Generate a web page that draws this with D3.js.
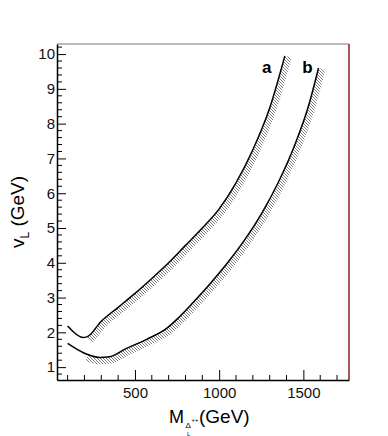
<!DOCTYPE html>
<html><head><meta charset="utf-8">
<script src="https://cdn.jsdelivr.net/npm/d3@7/dist/d3.min.js"></script>
<style>body{margin:0;background:#fff}svg{display:block}text{font-family:"Liberation Sans",Arial,Helvetica,sans-serif}</style>
</head><body><div id="chart"></div>
<script>
// Curve a (mass in GeV, v_L in GeV)
const massA = [100, 150, 190, 215, 300, 400, 500, 600, 700, 800, 900, 1000, 1100, 1200, 1300, 1390];
const vA    = [2.18, 1.95, 1.85, 1.87, 2.32, 2.72, 3.12, 3.55, 4.0, 4.5, 5.0, 5.55, 6.3, 7.25, 8.45, 9.95];
// Curve b
const massB = [100, 200, 290, 350, 450, 570, 690, 750, 830, 950, 1050, 1150, 1250, 1350, 1450, 1530, 1590];
const vB    = [1.68, 1.4, 1.28, 1.3, 1.54, 1.8, 2.12, 2.38, 2.78, 3.42, 4.0, 4.65, 5.4, 6.3, 7.4, 8.5, 9.6];
const hatchStart = 215; // GeV where hatching begins
const curveLabels = ["a", "b"];
const xTickLabels = [500, 1000, 1500];
const yTickLabels = [1, 2, 3, 4, 5, 6, 7, 8, 9, 10];

const W = 388, H = 436;
const svg = d3.select("#chart").append("svg").attr("width", W).attr("height", H);

const x = d3.scaleLinear().domain([37, 1771]).range([57, 349]);
const y = d3.scaleLinear().domain([0.63, 10.29]).range([380, 44]);

const defs = svg.append("defs");
const pat = defs.append("pattern").attr("id", "hatch").attr("patternUnits", "userSpaceOnUse")
  .attr("width", 3).attr("height", 3);
pat.append("path").attr("d", "M-1,-1L4,4M-1,2L1,4M2,-1L4,1")
  .attr("stroke", "#6f6f6f").attr("stroke-width", 0.9);

// frame
svg.append("line").attr("x1", x.range()[0]).attr("x2", x.range()[1]).attr("y1", y.range()[1]).attr("y2", y.range()[1])
  .attr("stroke", "#777").attr("stroke-width", 1);
svg.append("line").attr("x1", x.range()[1]).attr("x2", x.range()[1]).attr("y1", y.range()[1]).attr("y2", y.range()[0])
  .attr("stroke", "#8b1f1f").attr("stroke-width", 1.5);

// axes
const minorX = d3.range(100, 1800, 100).filter(d => d % 500 !== 0);
const minorY = d3.range(8, 103, 2).map(d => d / 10).filter(d => Math.abs(d - Math.round(d)) > 1e-6);

const gx = svg.append("g").attr("transform", `translate(0,${y.range()[0]})`);
gx.call(d3.axisBottom(x).tickValues(xTickLabels).tickFormat(d3.format("d")).tickSize(-10).tickSizeOuter(0).tickPadding(18));
gx.append("g").selectAll("line").data(minorX).join("line")
  .attr("x1", d => x(d)).attr("x2", d => x(d)).attr("y1", 0).attr("y2", -5).attr("stroke", "#000");
gx.select(".domain").attr("stroke", "#000").attr("stroke-width", 1.5);
gx.selectAll(".tick line").attr("stroke", "#000");
gx.selectAll(".tick text").style("font-size", "15px").attr("fill", "#111").attr("dy", "0");

const gy = svg.append("g").attr("transform", `translate(${x.range()[0]},0)`);
gy.call(d3.axisLeft(y).tickValues(yTickLabels).tickSize(-9).tickSizeOuter(0).tickPadding(2));
gy.append("g").selectAll("line").data(minorY).join("line")
  .attr("x1", 0).attr("x2", 5).attr("y1", d => y(d)).attr("y2", d => y(d)).attr("stroke", "#000");
gy.select(".domain").attr("stroke", "#000").attr("stroke-width", 1.5);
gy.selectAll(".tick line").attr("stroke", "#000");
gy.selectAll(".tick text").style("font-size", "15px").attr("fill", "#111");

// curves
const line = d3.line().x(d => x(d[0])).y(d => y(d[1])).curve(d3.curveMonotoneX);
const hatchLayer = svg.append("g");
const lineLayer = svg.append("g");
function drawCurve(ms, vs) {
  const pts = ms.map((m, i) => [m, vs[i]]);
  const path = lineLayer.append("path").attr("d", line(pts)).attr("fill", "none")
    .attr("stroke", "#000").attr("stroke-width", 1.5);
  const node = path.node();
  const L = node.getTotalLength();
  const samples = [];
  const xs = x(hatchStart);
  for (let s = 0; s <= L; s += 1) {
    const p = node.getPointAtLength(s);
    if (p.x >= xs) samples.push([p.x, p.y]);
  }
  const endP = node.getPointAtLength(L); samples.push([endP.x, endP.y]);
  const w = 7;
  const off = samples.map((p, i) => {
    const a = samples[Math.max(0, i - 2)], b = samples[Math.min(samples.length - 1, i + 2)];
    let tx = b[0] - a[0], ty = b[1] - a[1];
    const n = Math.hypot(tx, ty) || 1; tx /= n; ty /= n;
    return [p[0] - ty * w, p[1] + tx * w];
  });
  const poly = samples.concat(off.reverse());
  hatchLayer.append("path").attr("d", "M" + poly.map(p => p.join(",")).join("L") + "Z")
    .attr("fill", "url(#hatch)").attr("stroke", "none");
}
drawCurve(massA, vA);
drawCurve(massB, vB);

// labels a, b
svg.append("text").attr("x", x(massA[massA.length - 1]) - 18).attr("y", 73).attr("text-anchor", "middle")
  .style("font-size", "17px").attr("font-weight", "bold").text(curveLabels[0]);
svg.append("text").attr("x", x(massB[massB.length - 1]) - 11).attr("y", 73).attr("text-anchor", "middle")
  .style("font-size", "17px").attr("font-weight", "bold").text(curveLabels[1]);

// axis titles
const xt = svg.append("g");
xt.append("text").attr("x", 169).attr("y", 423).style("font-size", "18px").text("M");
xt.append("text").attr("x", 185.5).attr("y", 428).style("font-size", "8px").text("Δ");
xt.append("text").attr("x", 187).attr("y", 436).style("font-size", "6px").text("L");
xt.append("text").attr("x", 191.5).attr("y", 422).style("font-size", "6px").text("++");
xt.append("text").attr("x", 199).attr("y", 423).style("font-size", "19px").text("(GeV)");

const yt = svg.append("text").attr("transform", "translate(24,212) rotate(-90)").attr("text-anchor", "middle")
  .style("font-size", "19px");
yt.append("tspan").text("v");
yt.append("tspan").style("font-size", "12px").attr("dy", 5).text("L");
yt.append("tspan").attr("dy", -5).text(" (GeV)");
</script></body></html>
